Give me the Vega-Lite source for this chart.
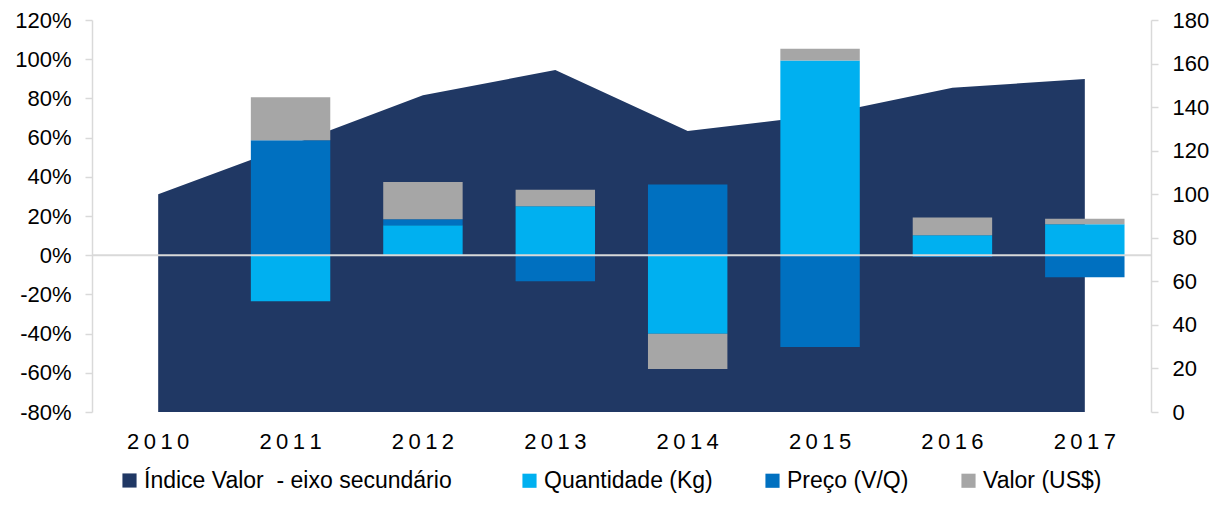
{
  "$schema": "https://vega.github.io/schema/vega-lite/v6.json",
  "width": 1059,
  "height": 392,
  "autosize": {"type": "none"},
  "padding": {"left": 92, "top": 20, "right": 74, "bottom": 97},
  "config": {
    "view": {"stroke": null},
    "font": "Liberation Sans",
    "axis": {
      "labelFont": "Liberation Sans",
      "labelColor": "#000000",
      "domainColor": "#D9D9D9",
      "domainWidth": 1.5,
      "tickColor": "#D9D9D9",
      "tickWidth": 1.5,
      "tickSize": 7,
      "grid": false,
      "title": null,
      "labelOverlap": false
    },
    "legend": {
      "orient": "none",
      "direction": "horizontal",
      "title": null,
      "symbolType": "square",
      "symbolSize": 200,
      "symbolStrokeWidth": 0,
      "symbolOpacity": 1,
      "labelFont": "Liberation Sans",
      "labelFontSize": 23,
      "labelColor": "#000000",
      "labelOffset": 3,
      "labelLimit": 400
    }
  },
  "datasets": {
    "indice": [
      {"ano": "2010", "indice": 100},
      {"ano": "2011", "indice": 122.5},
      {"ano": "2012", "indice": 145.5},
      {"ano": "2013", "indice": 157},
      {"ano": "2014", "indice": 129},
      {"ano": "2015", "indice": 136.3},
      {"ano": "2016", "indice": 148.9},
      {"ano": "2017", "indice": 152.9}
    ],
    "barras": [
      {"ano": "2011", "serie": "Quantidade (Kg)", "ordem": 1, "variacao": -0.235},
      {"ano": "2011", "serie": "Preço (V/Q)", "ordem": 2, "variacao": 0.587},
      {"ano": "2011", "serie": "Valor (US$)", "ordem": 3, "variacao": 0.219},
      {"ano": "2012", "serie": "Quantidade (Kg)", "ordem": 1, "variacao": 0.153},
      {"ano": "2012", "serie": "Preço (V/Q)", "ordem": 2, "variacao": 0.031},
      {"ano": "2012", "serie": "Valor (US$)", "ordem": 3, "variacao": 0.19},
      {"ano": "2013", "serie": "Quantidade (Kg)", "ordem": 1, "variacao": 0.25},
      {"ano": "2013", "serie": "Preço (V/Q)", "ordem": 2, "variacao": -0.133},
      {"ano": "2013", "serie": "Valor (US$)", "ordem": 3, "variacao": 0.084},
      {"ano": "2014", "serie": "Quantidade (Kg)", "ordem": 1, "variacao": -0.401},
      {"ano": "2014", "serie": "Preço (V/Q)", "ordem": 2, "variacao": 0.361},
      {"ano": "2014", "serie": "Valor (US$)", "ordem": 3, "variacao": -0.179},
      {"ano": "2015", "serie": "Quantidade (Kg)", "ordem": 1, "variacao": 0.993},
      {"ano": "2015", "serie": "Preço (V/Q)", "ordem": 2, "variacao": -0.469},
      {"ano": "2015", "serie": "Valor (US$)", "ordem": 3, "variacao": 0.06},
      {"ano": "2016", "serie": "Quantidade (Kg)", "ordem": 1, "variacao": 0.102},
      {"ano": "2016", "serie": "Preço (V/Q)", "ordem": 2, "variacao": -0.009},
      {"ano": "2016", "serie": "Valor (US$)", "ordem": 3, "variacao": 0.09},
      {"ano": "2017", "serie": "Quantidade (Kg)", "ordem": 1, "variacao": 0.158},
      {"ano": "2017", "serie": "Preço (V/Q)", "ordem": 2, "variacao": -0.112},
      {"ano": "2017", "serie": "Valor (US$)", "ordem": 3, "variacao": 0.028}
    ]
  },
  "layer": [
    {
      "data": {"name": "indice"},
      "mark": {"type": "area", "opacity": 1, "interpolate": "linear"},
      "encoding": {
        "x": {
          "field": "ano",
          "type": "ordinal",
          "bandPosition": 0.5,
          "scale": {"type": "band", "paddingInner": 0.4, "paddingOuter": 0.2},
          "axis": {
            "domain": false,
            "ticks": false,
            "labelAngle": 0,
            "labelFontSize": 22,
            "labelPadding": 19,
            "labelExpr": "substring(datum.label,0,1)+'\u2009'+substring(datum.label,1,2)+'\u2009'+substring(datum.label,2,3)+'\u2009'+substring(datum.label,3,4)"
          }
        },
        "y": {
          "field": "indice",
          "type": "quantitative",
          "scale": {"domain": [0, 180], "nice": false, "zero": true},
          "axis": {
            "orient": "right",
            "values": [0, 20, 40, 60, 80, 100, 120, 140, 160, 180],
            "labelOverlap": false,
            "labelFontSize": 22,
            "labelPadding": 14
          }
        },
        "color": {
          "datum": "Índice Valor\u00a0 - eixo secundário",
          "type": "nominal",
          "scale": {
            "domain": ["Índice Valor\u00a0 - eixo secundário"],
            "range": ["#203864"]
          },
          "legend": {"legendX": 26, "legendY": 449}
        }
      }
    },
    {
      "data": {"name": "barras"},
      "layer": [
        {
          "mark": {"type": "bar"},
          "encoding": {
            "x": {
              "field": "ano",
              "type": "ordinal",
              "scale": {"type": "band", "paddingInner": 0.4, "paddingOuter": 0.2},
              "axis": {
                "domain": false,
                "ticks": false,
                "labelAngle": 0,
                "labelFontSize": 22,
                "labelPadding": 19,
                "labelExpr": "substring(datum.label,0,1)+'\u2009'+substring(datum.label,1,2)+'\u2009'+substring(datum.label,2,3)+'\u2009'+substring(datum.label,3,4)"
              }
            },
            "y": {
              "field": "variacao",
              "type": "quantitative",
              "stack": "zero",
              "scale": {"domain": [-0.8, 1.2], "nice": false},
              "axis": {
                "orient": "left",
                "format": ".0%",
                "values": [-0.8, -0.6, -0.4, -0.2, 0, 0.2, 0.4, 0.6, 0.8, 1, 1.2],
                "labelOverlap": false,
                "labelExpr": "replace(datum.label, '\u2212', '-')",
                "labelFontSize": 22,
                "labelPadding": 14
              }
            },
            "color": {
              "field": "serie",
              "type": "nominal",
              "scale": {
                "domain": ["Quantidade (Kg)", "Preço (V/Q)", "Valor (US$)"],
                "range": ["#00B0F0", "#0070C0", "#A6A6A6"]
              },
              "legend": {"legendX": 426, "legendY": 449, "columnPadding": 48}
            },
            "order": {"field": "ordem", "type": "quantitative"}
          }
        },
        {
          "data": {"values": [{}]},
          "mark": {"type": "rule", "color": "#D9D9D9", "strokeWidth": 2},
          "encoding": {
            "y": {
              "datum": 0,
              "type": "quantitative",
              "scale": {"domain": [-0.8, 1.2], "nice": false},
              "axis": {
                "orient": "left",
                "format": ".0%",
                "values": [-0.8, -0.6, -0.4, -0.2, 0, 0.2, 0.4, 0.6, 0.8, 1, 1.2],
                "labelOverlap": false,
                "labelExpr": "replace(datum.label, '\u2212', '-')",
                "labelFontSize": 22,
                "labelPadding": 14
              }
            }
          }
        }
      ]
    }
  ],
  "resolve": {"scale": {"y": "independent", "color": "independent"}}
}
